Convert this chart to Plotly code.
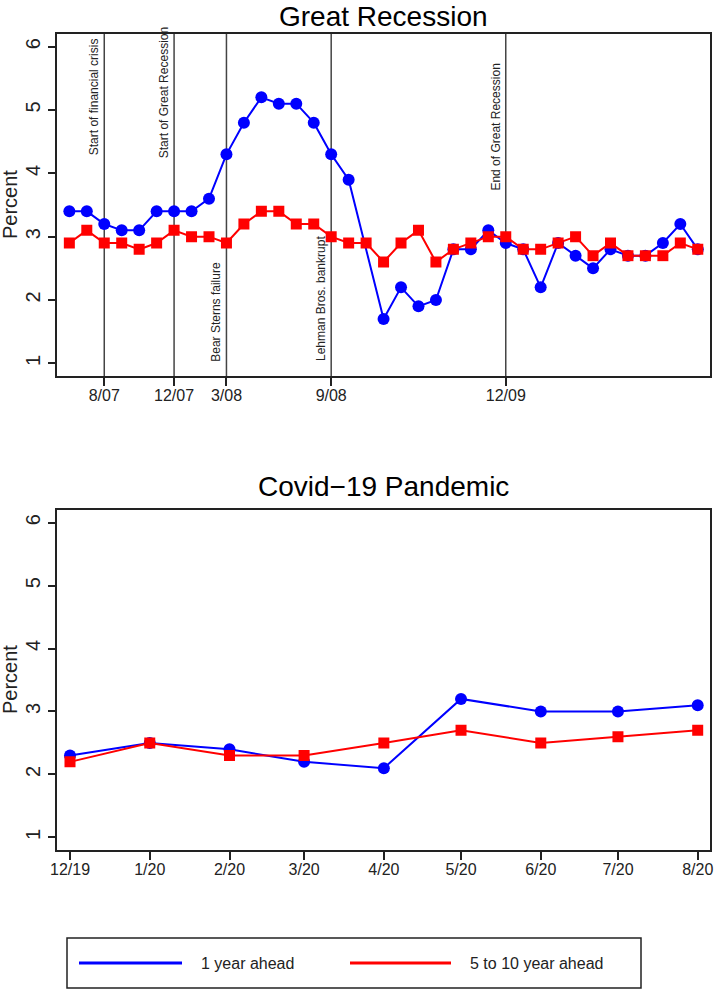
import plotly.graph_objects as go

W, H = 714, 990

# ---------------- Data ----------------
# Great Recession (observation index 0..36)
gr_index = list(range(37))
gr_one_year = [3.4, 3.4, 3.2, 3.1, 3.1, 3.4, 3.4, 3.4, 3.6, 4.3, 4.8, 5.2, 5.1, 5.1, 4.8, 4.3, 3.9, None,
               1.7, 2.2, 1.9, 2.0, 2.8, 2.8, 3.1, 2.9, 2.8, 2.2, 2.9, 2.7, 2.5, 2.8, 2.7, 2.7, 2.9, 3.2, 2.8]
gr_five_ten = [2.9, 3.1, 2.9, 2.9, 2.8, 2.9, 3.1, 3.0, 3.0, 2.9, 3.2, 3.4, 3.4, 3.2, 3.2, 3.0, 2.9, 2.9,
               2.6, 2.9, 3.1, 2.6, 2.8, 2.9, 3.0, 3.0, 2.8, 2.8, 2.9, 3.0, 2.7, 2.9, 2.7, 2.7, 2.7, 2.9, 2.8]
gr_tick_pos = [2, 6, 9, 15, 25]
gr_tick_text = ["8/07", "12/07", "3/08", "9/08", "12/09"]
event_pos = [2, 6, 9, 15, 25]
event_text = ["Start of financial crisis", "Start of Great Recession", "Bear Sterns failure",
              "Lehman Bros. bankrupt", "End of Great Recession"]
event_label_y = [4.25, 4.2, 1.0, 1.0, 3.7]

# Covid-19 pandemic (monthly)
cv_dates = ["2019-12-01", "2020-01-01", "2020-02-01", "2020-03-01", "2020-04-01",
            "2020-05-01", "2020-06-01", "2020-07-01", "2020-08-01"]
cv_tick_text = ["12/19", "1/20", "2/20", "3/20", "4/20", "5/20", "6/20", "7/20", "8/20"]
cv_one_year = [2.3, 2.5, 2.4, 2.2, 2.1, 3.2, 3.0, 3.0, 3.1]
cv_five_ten = [2.2, 2.5, 2.3, 2.3, 2.5, 2.7, 2.5, 2.6, 2.7]

series_names = ["1 year ahead", "5 to 10 year ahead"]
BLUE, RED = "#0000FF", "#FF0000"
INK = "#222222"
FONT = "Liberation Sans, Arial, Helvetica, sans-serif"

# ---------------- Layout helpers ----------------
def px_x(p):
    return p / W

def px_y(p):
    return 1 - p / H

X0, X1 = 57.3, 710.0
TOP = (34.0, 376.0)
BOT = (510.0, 850.0)

fig = go.Figure()

circle = dict(symbol="circle", size=12, color=BLUE)
square = dict(symbol="square", size=11, color=RED)

# Great Recession traces
fig.add_trace(go.Scatter(x=gr_index, y=gr_one_year, name=series_names[0], mode="lines+markers",
                         connectgaps=True, line=dict(color=BLUE, width=2), marker=circle,
                         xaxis="x", yaxis="y", showlegend=False))
fig.add_trace(go.Scatter(x=gr_index, y=gr_five_ten, name=series_names[1], mode="lines+markers",
                         line=dict(color=RED, width=2), marker=square,
                         xaxis="x", yaxis="y", showlegend=False))
# Covid traces
fig.add_trace(go.Scatter(x=cv_dates, y=cv_one_year, name=series_names[0], mode="lines+markers",
                         line=dict(color=BLUE, width=2), marker=circle,
                         xaxis="x2", yaxis="y2", showlegend=False))
fig.add_trace(go.Scatter(x=cv_dates, y=cv_five_ten, name=series_names[1], mode="lines+markers",
                         line=dict(color=RED, width=2), marker=square,
                         xaxis="x2", yaxis="y2", showlegend=False))

axis_common = dict(showline=True, mirror=True, linecolor=INK, linewidth=1.5,
                   ticks="outside", ticklen=8, tickwidth=1.5, tickcolor=INK,
                   showgrid=False, zeroline=False, automargin=False,
                   tickfont=dict(family=FONT, size=16, color=INK))
xaxis_common = dict(axis_common, ticklabelstandoff=-4)
yaxis_common = dict(axis_common, range=[0.8, 6.2], tickvals=[1, 2, 3, 4, 5, 6],
                    tickangle=-90, tickfont=dict(family=FONT, size=20, color=INK))

fig.update_layout(
    width=W, height=H, margin=dict(l=0, r=0, t=0, b=0),
    paper_bgcolor="white", plot_bgcolor="white",
    font=dict(family=FONT, color=INK),
    xaxis=dict(xaxis_common, domain=[px_x(X0), px_x(X1)], range=[-0.69, 36.70],
               tickvals=gr_tick_pos, ticktext=gr_tick_text, anchor="y"),
    yaxis=dict(yaxis_common, domain=[px_y(TOP[1]), px_y(TOP[0])], anchor="x"),
    xaxis2=dict(xaxis_common, type="date", domain=[px_x(X0), px_x(X1)],
                range=["2019-11-26 01:30", "2020-08-05 18:45"],
                tickvals=cv_dates, ticktext=cv_tick_text, anchor="y2"),
    yaxis2=dict(yaxis_common, domain=[px_y(BOT[1]), px_y(BOT[0])], anchor="x2"),
)

shapes = []
annotations = []
# event lines
for pos, txt, ly in zip(event_pos, event_text, event_label_y):
    shapes.append(dict(type="line", xref="x", yref="y domain", x0=pos, x1=pos, y0=0, y1=1,
                       line=dict(color="#444444", width=1.5), layer="below"))
    annotations.append(dict(x=pos, y=ly, xref="x", yref="y", text=txt, textangle=-90,
                            showarrow=False, xanchor="right", yanchor="bottom", xshift=-1,
                            font=dict(family=FONT, size=12, color=INK)))

# titles
cx = px_x((X0 + X1) / 2)
annotations.append(dict(x=cx, y=px_y(16.5), xref="paper", yref="paper", text="Great Recession",
                        showarrow=False, xanchor="center", yanchor="middle",
                        font=dict(family=FONT, size=28, color="black")))
annotations.append(dict(x=cx, y=px_y(487), xref="paper", yref="paper", text="Covid\u221219 Pandemic",
                        showarrow=False, xanchor="center", yanchor="middle",
                        font=dict(family=FONT, size=28, color="black")))
# y titles
for yc in [(TOP[0] + TOP[1]) / 2, (BOT[0] + BOT[1]) / 2]:
    annotations.append(dict(x=px_x(10), y=px_y(yc), xref="paper", yref="paper", text="Percent",
                            textangle=-90, showarrow=False, xanchor="center", yanchor="middle",
                            font=dict(family=FONT, size=20, color=INK)))

# legend box
shapes.append(dict(type="rect", xref="paper", yref="paper", x0=px_x(67), x1=px_x(641),
                   y0=px_y(988), y1=px_y(938), line=dict(color=INK, width=1.5)))
for (l0, l1, tx), col, name in zip([(79, 182, 199), (350, 451, 468)], [BLUE, RED], series_names):
    shapes.append(dict(type="line", xref="paper", yref="paper", x0=px_x(l0), x1=px_x(l1),
                       y0=px_y(963), y1=px_y(963), line=dict(color=col, width=3)))
    annotations.append(dict(x=px_x(tx), y=px_y(963), xref="paper", yref="paper", text=name,
                            showarrow=False, xanchor="left", yanchor="middle",
                            font=dict(family=FONT, size=16, color=INK)))

fig.update_layout(shapes=shapes, annotations=annotations)
fig.write_html("out.html", config={"displayModeBar": False},
               post_script="document.body.style.margin='0';document.body.style.overflow='hidden';")
